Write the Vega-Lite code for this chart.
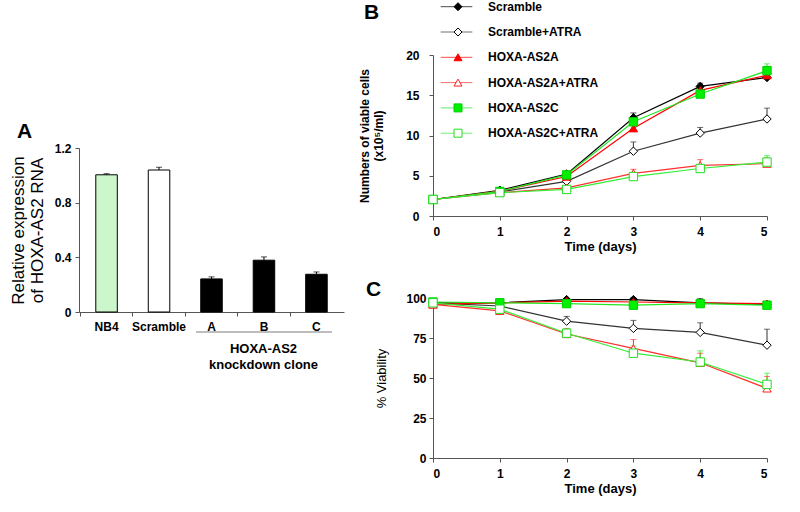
{
  "$schema": "https://vega.github.io/schema/vega-lite/v6.json",
  "padding": {"left": 9, "top": 0, "right": 5, "bottom": 5},
  "background": "white",
  "config": {
    "font": "Liberation Sans",
    "view": {"stroke": null},
    "axis": {"labelFont": "Liberation Sans", "labelFontWeight": "bold", "labelFontSize": 12, "labelColor": "black", "titleFont": "Liberation Sans", "titleColor": "black", "domainColor": "#555", "tickColor": "#555", "tickSize": 4, "grid": false, "labelOverlap": false},
    "title": {"font": "Liberation Sans", "fontWeight": "bold", "fontSize": 21, "anchor": "start", "color": "black", "frame": "group"},
    "legend": {"labelFont": "Liberation Sans", "labelFontWeight": "bold", "labelFontSize": 12, "labelColor": "black"}
  },
  "datasets": {
    "expr": [
      {"cat": "NB4", "val": 1.004, "hi": 1.012},
      {"cat": "Scramble", "val": 1.039, "hi": 1.059},
      {"cat": "A", "val": 0.242, "hi": 0.257},
      {"cat": "B", "val": 0.379, "hi": 0.403},
      {"cat": "C", "val": 0.276, "hi": 0.293}
    ],
    "growth": [
      {"series": "Scramble", "day": 0, "v": 2.05},
      {"series": "Scramble", "day": 1, "v": 3.2},
      {"series": "Scramble", "day": 2, "v": 5.2},
      {"series": "Scramble", "day": 3, "v": 12.2, "hi": 12.8},
      {"series": "Scramble", "day": 4, "v": 16.1, "hi": 16.5},
      {"series": "Scramble", "day": 5, "v": 17.2, "hi": 17.5},
      {"series": "Scramble+ATRA", "day": 0, "v": 2.05},
      {"series": "Scramble+ATRA", "day": 1, "v": 3.0},
      {"series": "Scramble+ATRA", "day": 2, "v": 4.3, "hi": 4.7},
      {"series": "Scramble+ATRA", "day": 3, "v": 8.05, "hi": 9.2},
      {"series": "Scramble+ATRA", "day": 4, "v": 10.3, "hi": 11.0},
      {"series": "Scramble+ATRA", "day": 5, "v": 12.05, "hi": 13.4},
      {"series": "HOXA-AS2A", "day": 0, "v": 2.05},
      {"series": "HOXA-AS2A", "day": 1, "v": 3.1},
      {"series": "HOXA-AS2A", "day": 2, "v": 4.9},
      {"series": "HOXA-AS2A", "day": 3, "v": 10.9, "hi": 11.3},
      {"series": "HOXA-AS2A", "day": 4, "v": 15.6, "hi": 15.9},
      {"series": "HOXA-AS2A", "day": 5, "v": 17.5, "hi": 17.9},
      {"series": "HOXA-AS2A+ATRA", "day": 0, "v": 2.05},
      {"series": "HOXA-AS2A+ATRA", "day": 1, "v": 2.9},
      {"series": "HOXA-AS2A+ATRA", "day": 2, "v": 3.5},
      {"series": "HOXA-AS2A+ATRA", "day": 3, "v": 5.3, "hi": 5.8},
      {"series": "HOXA-AS2A+ATRA", "day": 4, "v": 6.3, "hi": 7.0},
      {"series": "HOXA-AS2A+ATRA", "day": 5, "v": 6.5, "hi": 7.2},
      {"series": "HOXA-AS2C", "day": 0, "v": 2.05},
      {"series": "HOXA-AS2C", "day": 1, "v": 3.05},
      {"series": "HOXA-AS2C", "day": 2, "v": 5.1},
      {"series": "HOXA-AS2C", "day": 3, "v": 11.7},
      {"series": "HOXA-AS2C", "day": 4, "v": 15.15},
      {"series": "HOXA-AS2C", "day": 5, "v": 18.05, "hi": 18.9},
      {"series": "HOXA-AS2C+ATRA", "day": 0, "v": 2.05},
      {"series": "HOXA-AS2C+ATRA", "day": 1, "v": 2.9},
      {"series": "HOXA-AS2C+ATRA", "day": 2, "v": 3.3},
      {"series": "HOXA-AS2C+ATRA", "day": 3, "v": 4.9},
      {"series": "HOXA-AS2C+ATRA", "day": 4, "v": 5.9},
      {"series": "HOXA-AS2C+ATRA", "day": 5, "v": 6.7, "hi": 7.5}
    ],
    "viab": [
      {"series": "Scramble", "day": 0, "v": 97, "hi": 99},
      {"series": "Scramble", "day": 1, "v": 97},
      {"series": "Scramble", "day": 2, "v": 99},
      {"series": "Scramble", "day": 3, "v": 99, "hi": 100},
      {"series": "Scramble", "day": 4, "v": 97, "hi": 99.5},
      {"series": "Scramble", "day": 5, "v": 96},
      {"series": "Scramble+ATRA", "day": 0, "v": 97},
      {"series": "Scramble+ATRA", "day": 1, "v": 95, "hi": 97},
      {"series": "Scramble+ATRA", "day": 2, "v": 85.5, "hi": 88.5},
      {"series": "Scramble+ATRA", "day": 3, "v": 81, "hi": 86},
      {"series": "Scramble+ATRA", "day": 4, "v": 78.5, "hi": 84.5},
      {"series": "Scramble+ATRA", "day": 5, "v": 70.5, "hi": 80.5},
      {"series": "HOXA-AS2A", "day": 0, "v": 96},
      {"series": "HOXA-AS2A", "day": 1, "v": 97},
      {"series": "HOXA-AS2A", "day": 2, "v": 98},
      {"series": "HOXA-AS2A", "day": 3, "v": 97.5},
      {"series": "HOXA-AS2A", "day": 4, "v": 97},
      {"series": "HOXA-AS2A", "day": 5, "v": 96.5, "hi": 98},
      {"series": "HOXA-AS2A+ATRA", "day": 0, "v": 96},
      {"series": "HOXA-AS2A+ATRA", "day": 1, "v": 92},
      {"series": "HOXA-AS2A+ATRA", "day": 2, "v": 77.5, "hi": 81},
      {"series": "HOXA-AS2A+ATRA", "day": 3, "v": 68.5, "hi": 74},
      {"series": "HOXA-AS2A+ATRA", "day": 4, "v": 59.5, "hi": 65.5},
      {"series": "HOXA-AS2A+ATRA", "day": 5, "v": 43.5, "hi": 51},
      {"series": "HOXA-AS2C", "day": 0, "v": 97.5},
      {"series": "HOXA-AS2C", "day": 1, "v": 97},
      {"series": "HOXA-AS2C", "day": 2, "v": 96.5},
      {"series": "HOXA-AS2C", "day": 3, "v": 95.5},
      {"series": "HOXA-AS2C", "day": 4, "v": 96.5},
      {"series": "HOXA-AS2C", "day": 5, "v": 95.5},
      {"series": "HOXA-AS2C+ATRA", "day": 0, "v": 97},
      {"series": "HOXA-AS2C+ATRA", "day": 1, "v": 93},
      {"series": "HOXA-AS2C+ATRA", "day": 2, "v": 78, "hi": 80.5},
      {"series": "HOXA-AS2C+ATRA", "day": 3, "v": 65.5, "hi": 70},
      {"series": "HOXA-AS2C+ATRA", "day": 4, "v": 60, "hi": 67},
      {"series": "HOXA-AS2C+ATRA", "day": 5, "v": 46, "hi": 53}
    ]
  },
  "spacing": 14,
  "resolve": {
    "scale": {"fill": "independent", "stroke": "independent", "shape": "independent", "color": "independent"},
    "legend": {"fill": "independent", "stroke": "independent", "shape": "independent", "color": "independent"}
  },
  "hconcat": [
    {
      "bounds": "flush",
      "spacing": 10,
      "vconcat": [
        {"width": 10, "height": 83, "view": {"fill": "white", "stroke": null}, "data": {"values": []}, "mark": "point"},
        {
          "width": 265,
          "height": 164,
          "data": {"name": "expr"},
          "title": {"text": "A", "dx": -62, "offset": 0},
          "encoding": {
            "x": {
              "field": "cat", "type": "nominal", "sort": null,
              "scale": {"domain": ["NB4", "Scramble", "A", "B", "C"], "paddingInner": 0.59, "paddingOuter": 0.32},
              "axis": {"title": ["HOXA-AS2", "knockdown clone"], "labelAngle": 0, "bandPosition": -0.726, "labelPadding": 5, "titleX": 184, "titleY": 30, "titleBaseline": "top", "titleFontWeight": "bold", "titleFontSize": 13, "titleLineHeight": 16}
            }
          },
          "layer": [
            {
              "mark": {"type": "bar", "stroke": "black", "strokeWidth": 1},
              "encoding": {
                "y": {"field": "val", "type": "quantitative", "scale": {"domain": [0, 1.2]},
                  "axis": {"values": [0, 0.4, 0.8, 1.2], "format": "~g", "labelPadding": 4, "title": ["Relative expression", "of HOXA-AS2 RNA"], "titleFontWeight": "normal", "titleFontSize": 17, "titlePadding": 8, "titleLineHeight": 19}},
                "fill": {"field": "cat", "type": "nominal", "scale": {"domain": ["NB4", "Scramble", "A", "B", "C"], "range": ["#ccf7cc", "#ffffff", "#000000", "#000000", "#000000"]}, "legend": null}
              }
            },
            {
              "mark": {"type": "rule", "color": "black", "strokeWidth": 1},
              "encoding": {"y": {"field": "val", "type": "quantitative"}, "y2": {"field": "hi"}}
            },
            {
              "mark": {"type": "tick", "orient": "horizontal", "color": "black", "size": 6, "thickness": 1},
              "encoding": {"y": {"field": "hi", "type": "quantitative"}}
            },
            {
              "data": {"values": [{"cat": "B", "y": -0.147}]},
              "mark": {"type": "tick", "orient": "horizontal", "color": "#444", "size": 136, "thickness": 1},
              "encoding": {"y": {"field": "y", "type": "quantitative"}}
            }
          ]
        }
      ]
    },
    {
      "bounds": "flush",
      "spacing": 82,
      "resolve": {
        "scale": {"fill": "independent", "stroke": "independent", "shape": "independent", "color": "independent"},
        "legend": {"fill": "independent", "stroke": "independent", "shape": "independent", "color": "independent"}
      },
      "vconcat": [
        {
          "width": 334,
          "height": 161,
          "data": {"name": "growth"},
          "transform": [{"calculate": "datum.series + '_l'", "as": "line"}],
          "title": {"text": "B", "dx": -69, "offset": -22},
          "encoding": {
            "x": {"field": "day", "type": "quantitative", "scale": {"domain": [0, 5], "nice": false},
              "axis": {"values": [0, 1, 2, 3, 4, 5], "labelPadding": 6, "title": "Time (days)", "titleFontWeight": "bold", "titleFontSize": 13, "titlePadding": 3}}
          },
          "layer": [
            {
              "mark": {"type": "line", "strokeWidth": 1.2},
              "encoding": {
                "y": {"field": "v", "type": "quantitative", "scale": {"domain": [0, 20]},
                  "axis": {"values": [0, 5, 10, 15, 20], "labelPadding": 10, "title": ["Numbers of viable cells", "(x10⁵/ml)"], "titleFontWeight": "bold", "titleFontSize": 12, "titlePadding": 20, "titleLineHeight": 14}},
                "color": {"field": "line", "type": "nominal",
                  "scale": {"domain": ["Scramble_l", "Scramble+ATRA_l", "HOXA-AS2A_l", "HOXA-AS2A+ATRA_l", "HOXA-AS2C_l", "HOXA-AS2C+ATRA_l"], "range": ["#000000", "#333333", "#ff0000", "#ff3030", "#22e822", "#33ee33"]},
                  "legend": {"orient": "none", "legendX": 7, "legendY": -54.3, "title": null, "symbolType": "stroke", "symbolSize": 1000, "symbolStrokeWidth": 1, "clipHeight": 12, "rowPadding": 13.3, "labelExpr": "''", "padding": 0}}
              }
            },
            {
              "transform": [{"filter": "isValid(datum.hi)"}],
              "mark": {"type": "rule", "strokeWidth": 1},
              "encoding": {"y": {"field": "v", "type": "quantitative"}, "y2": {"field": "hi"}, "color": {"field": "line", "type": "nominal"}}
            },
            {
              "transform": [{"filter": "isValid(datum.hi)"}],
              "mark": {"type": "tick", "orient": "horizontal", "size": 6, "thickness": 1},
              "encoding": {"y": {"field": "hi", "type": "quantitative"}, "color": {"field": "line", "type": "nominal"}}
            },
            {
              "mark": {"type": "point", "filled": true, "size": 70, "strokeWidth": 1, "opacity": 1},
              "encoding": {
                "y": {"field": "v", "type": "quantitative"},
                "shape": {"field": "series", "type": "nominal",
                  "scale": {"domain": ["Scramble", "Scramble+ATRA", "HOXA-AS2A", "HOXA-AS2A+ATRA", "HOXA-AS2C", "HOXA-AS2C+ATRA"], "range": ["diamond", "diamond", "triangle-up", "triangle-up", "square", "square"]},
                  "legend": {"orient": "none", "legendX": 19, "legendY": -54.3, "title": null, "clipHeight": 12, "rowPadding": 13.3, "labelOffset": 24, "symbolSize": 64, "symbolStrokeWidth": 1, "padding": 0}},
                "fill": {"field": "series", "type": "nominal",
                  "scale": {"domain": ["Scramble", "Scramble+ATRA", "HOXA-AS2A", "HOXA-AS2A+ATRA", "HOXA-AS2C", "HOXA-AS2C+ATRA"], "range": ["#000000", "#ffffff", "#ff0000", "#ffffff", "#00f000", "#ffffff"]}},
                "stroke": {"field": "series", "type": "nominal",
                  "scale": {"domain": ["Scramble", "Scramble+ATRA", "HOXA-AS2A", "HOXA-AS2A+ATRA", "HOXA-AS2C", "HOXA-AS2C+ATRA"], "range": ["#000000", "#000000", "#ff0000", "#ff2020", "#00d000", "#22dd22"]}}
              }
            }
          ]
        },
        {
          "width": 334,
          "height": 160,
          "data": {"name": "viab"},
          "transform": [{"calculate": "datum.series + '_l'", "as": "line"}],
          "title": {"text": "C", "dx": -67, "offset": -8},
          "encoding": {
            "x": {"field": "day", "type": "quantitative", "scale": {"domain": [0, 5], "nice": false},
              "axis": {"values": [0, 1, 2, 3, 4, 5], "labelPadding": 6, "title": "Time (days)", "titleFontWeight": "bold", "titleFontSize": 13, "titlePadding": 3}}
          },
          "layer": [
            {
              "mark": {"type": "line", "strokeWidth": 1.2},
              "encoding": {
                "y": {"field": "v", "type": "quantitative", "scale": {"domain": [0, 100]},
                  "axis": {"values": [0, 25, 50, 75, 100], "tickCount": 5, "labelOverlap": false, "labelPadding": 3, "title": "% Viability", "titleFontWeight": "normal", "titleFontSize": 13, "titlePadding": 17}},
                "color": {"field": "line", "type": "nominal",
                  "scale": {"domain": ["Scramble_l", "Scramble+ATRA_l", "HOXA-AS2A_l", "HOXA-AS2A+ATRA_l", "HOXA-AS2C_l", "HOXA-AS2C+ATRA_l"], "range": ["#000000", "#333333", "#ff0000", "#ff3030", "#22e822", "#33ee33"]},
                  "legend": null}
              }
            },
            {
              "transform": [{"filter": "isValid(datum.hi)"}],
              "mark": {"type": "rule", "strokeWidth": 1},
              "encoding": {"y": {"field": "v", "type": "quantitative", "axis": {"values": [0, 25, 50, 75, 100], "tickCount": 5, "labelOverlap": false, "labelPadding": 3, "title": "% Viability", "titleFontWeight": "normal", "titleFontSize": 13, "titlePadding": 17}}, "y2": {"field": "hi"}, "color": {"field": "line", "type": "nominal", "legend": null}}
            },
            {
              "transform": [{"filter": "isValid(datum.hi)"}],
              "mark": {"type": "tick", "orient": "horizontal", "size": 6, "thickness": 1},
              "encoding": {"y": {"field": "hi", "type": "quantitative", "axis": {"values": [0, 25, 50, 75, 100], "tickCount": 5, "labelOverlap": false, "labelPadding": 3, "title": "% Viability", "titleFontWeight": "normal", "titleFontSize": 13, "titlePadding": 17}}, "color": {"field": "line", "type": "nominal", "legend": null}}
            },
            {
              "mark": {"type": "point", "filled": true, "size": 70, "strokeWidth": 1, "opacity": 1},
              "encoding": {
                "y": {"field": "v", "type": "quantitative", "axis": {"values": [0, 25, 50, 75, 100], "tickCount": 5, "labelOverlap": false, "labelPadding": 3, "title": "% Viability", "titleFontWeight": "normal", "titleFontSize": 13, "titlePadding": 17}},
                "shape": {"field": "series", "type": "nominal",
                  "scale": {"domain": ["Scramble", "Scramble+ATRA", "HOXA-AS2A", "HOXA-AS2A+ATRA", "HOXA-AS2C", "HOXA-AS2C+ATRA"], "range": ["diamond", "diamond", "triangle-up", "triangle-up", "square", "square"]},
                  "legend": null},
                "fill": {"field": "series", "type": "nominal",
                  "scale": {"domain": ["Scramble", "Scramble+ATRA", "HOXA-AS2A", "HOXA-AS2A+ATRA", "HOXA-AS2C", "HOXA-AS2C+ATRA"], "range": ["#000000", "#ffffff", "#ff0000", "#ffffff", "#00f000", "#ffffff"]}, "legend": null},
                "stroke": {"field": "series", "type": "nominal",
                  "scale": {"domain": ["Scramble", "Scramble+ATRA", "HOXA-AS2A", "HOXA-AS2A+ATRA", "HOXA-AS2C", "HOXA-AS2C+ATRA"], "range": ["#000000", "#000000", "#ff0000", "#ff2020", "#00d000", "#22dd22"]}, "legend": null}
              }
            }
          ]
        }
      ]
    }
  ]
}
